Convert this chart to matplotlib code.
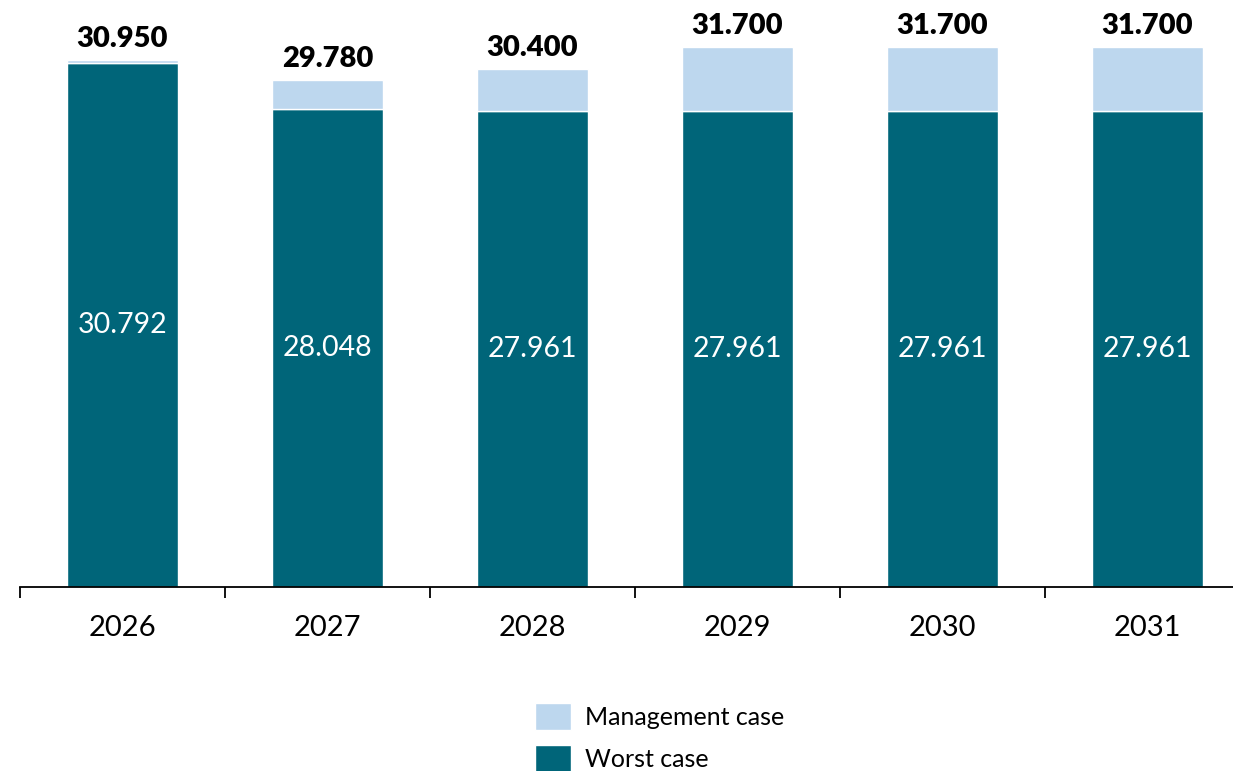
import numpy as np
import matplotlib.pyplot as plt

plt.rcParams['font.family'] = ['Lato', 'DejaVu Sans']

years = ['2026', '2027', '2028', '2029', '2030', '2031']
total = [30950, 29780, 30400, 31700, 31700, 31700]
worst = [30792, 28048, 27961, 27961, 27961, 27961]
mgmt = [t - w for t, w in zip(total, worst)]

dark = '#006579'
light = '#BDD7EE'

def fmt(v):
    return f'{v:,}'.replace(',', '.')

fig = plt.figure(figsize=(12.33, 7.71), dpi=100)
ax = fig.add_axes([20/1233, 184/771, 1230/1233, 562/771])

x = np.arange(len(years))
b1 = ax.bar(x, worst, width=0.54, color=dark, edgecolor='white', linewidth=1, label='Worst case')
b2 = ax.bar(x, mgmt, width=0.54, bottom=worst, color=light, edgecolor='white', linewidth=1,
            label='Management case')

for xi, w, t in zip(x, worst, total):
    ax.text(xi, w / 2, fmt(w), ha='center', va='center', color='white', fontsize=20.5)
    ax.annotate(fmt(t), (xi, t), xytext=(0, 6), textcoords='offset points',
                ha='center', va='bottom', fontsize=21, fontweight='heavy')

ax.set_xlim(-0.5, 5.5)
ax.set_ylim(0, 33000)
ax.set_yticks([])
for s in ['left', 'right', 'top']:
    ax.spines[s].set_visible(False)
ax.spines['bottom'].set_linewidth(1.3)

ax.set_xticks(x)
ax.set_xticklabels(years, fontsize=21)
ax.tick_params(axis='x', which='major', length=0, pad=20)
ax.set_xticks(np.arange(-0.5, 6, 1), minor=True)
ax.tick_params(axis='x', which='minor', length=8, width=1.3, direction='out')

handles = [b2, b1]
fig.legend(handles, ['Management case', 'Worst case'], loc='upper left',
           bbox_to_anchor=(535/1233, 1 - 703/771), frameon=False, fontsize=18,
           handlelength=1.44, handleheight=1.3, labelspacing=0.6, handletextpad=0.55,
           borderpad=0, borderaxespad=0)

fig.savefig('out.png', dpi=100)
